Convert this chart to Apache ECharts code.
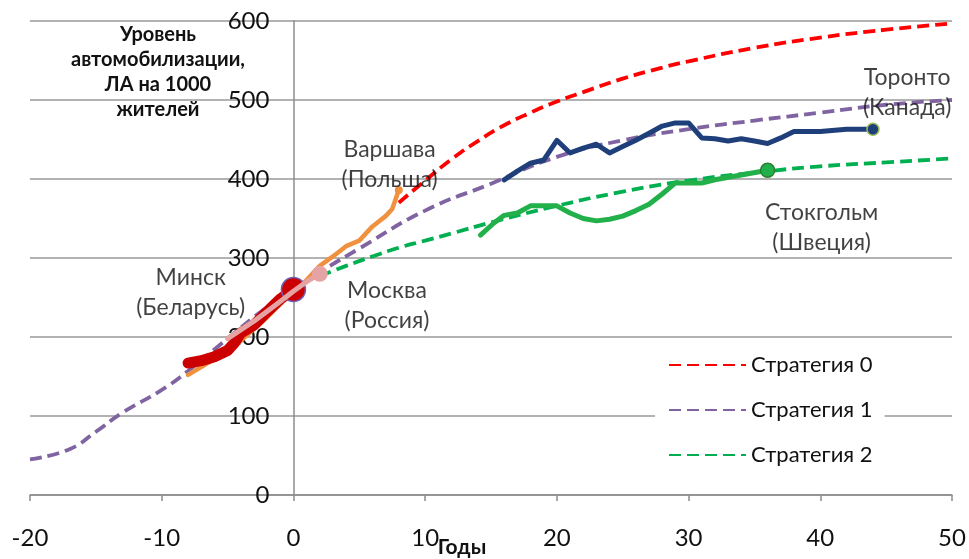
<!DOCTYPE html>
<html><head><meta charset="utf-8">
<script src="https://cdn.jsdelivr.net/npm/echarts@6/dist/echarts.min.js"></script>
<style>html,body{margin:0;padding:0;background:#fff}#c{width:969px;height:559px}</style>
</head><body><div id="c"></div>
<script>
// ---- data ----
const xMin = -20, xMax = 50, xStep = 10;
const yMin = 0, yMax = 600, yStep = 100;

const strategy0 = [[8,370],[10,398],[12,425],[14,448],[16,468],[18,484],[20,498],[22,510],[25,527],[28,541],[30,549],[35,566],[40,579],[45,589],[50,597]];
const strategy1 = [[-20,45],[-17,58],[-15,80],[-13,104],[-10,133],[-8,157],[-5,198],[-2,238],[0,260],[2,282],[5,312],[10,360],[15,394],[20,428],[25,449],[30,463],[35,474],[40,484],[45,494],[50,500]];
const strategy2 = [[2,277],[4,290],[6,302],[8,313],[10,322],[12,331],[15,345],[20,366],[25,384],[30,398],[35,408],[40,416],[45,421],[50,426]];

const warsaw = [[-8,152],[-6,172],[-4,195],[-2,225],[0,258],[1,272],[2,290],[3,302],[4,315],[5,322],[6,340],[7,353],[7.5,362],[8,386]];
const minsk = [[-8,167],[-7,170],[-6,175],[-5,183],[-4.5,192],[-4,205],[-3,215],[-2,232],[-1,248],[0,260]];
const moscow = [[-5,198],[-3,220],[-1,245],[0,258],[1,270],[2,280]];
const toronto = [[16,399],[17,410],[18,420],[19,424],[20,449],[21,433],[22,439],[23,444],[24,433],[25,441],[26,449],[27,458],[28,467],[29,471],[30,471],[31,452],[32,451],[33,448],[34,451],[35,448],[36,445],[37,452],[38,460],[40,460],[42,463],[44,463]];
const stockholm = [[14.2,329],[15.2,344],[16,354],[17,357],[18,366],[20,366],[21,357],[22,350],[23,347],[24,349],[25,353],[26,360],[27,368],[28,381],[29,395],[30,395],[31,395],[32,399],[34,405],[36,411]];

const strategyNames = ['Стратегия 0','Стратегия 1','Стратегия 2'];
const annotationTexts = ['Варшава\n(Польша)','Минск\n(Беларусь)','Москва\n(Россия)','Торонто\n(Канада)','Стокгольм\n(Швеция)'];
const annotationAnchors = [[7.3,418],[-7.8,256],[7.1,240],[46.6,510],[40.1,338]];
const yTitle = 'Уровень\nавтомобилизации,\nЛА на 1000\nжителей';
const xTitle = 'Годы';

// ---- chart ----
const FF = 'Lato, "Noto Sans", sans-serif';
const last = a => a[a.length - 1];
const dash = [12, 6];

function dashed(name, data, color) {
  return { name, type: 'line', data, smooth: true, symbol: 'none', showSymbol: false,
    lineStyle: { color, width: 3.8, type: dash }, itemStyle: { color: 'rgba(0,0,0,0)' }, z: 2 };
}
function solid(name, data, color, width, z) {
  return { name, type: 'line', data, smooth: false, symbol: 'none', showSymbol: false,
    lineStyle: { color, width, cap: 'round', join: 'round' }, itemStyle: { color }, z };
}
function dot(name, point, color, size, border, bw, z) {
  return { name, type: 'scatter', data: [point], symbol: 'circle', symbolSize: size,
    itemStyle: { color, borderColor: border, borderWidth: bw, opacity: 1 }, z };
}

const chart = echarts.init(document.getElementById('c'), null, { renderer: 'canvas' });
chart.setOption({
  animation: false,
  backgroundColor: '#fff',
  textStyle: { fontFamily: FF },
  title: { text: yTitle, left: 158, top: 22, textAlign: 'center', padding: 0,
    textStyle: { fontFamily: FF, fontSize: 20, fontWeight: 'bold', lineHeight: 25, color: '#111' } },
  grid: { left: 30, right: 17, top: 21, bottom: 64, containLabel: false, outerBoundsMode: 'none' },
  legend: {
    data: strategyNames, orient: 'vertical', left: 655, top: 346,
    padding: [8, 12, 8, 13], itemWidth: 77, itemHeight: 19, itemGap: 23,
    backgroundColor: '#fff',
    itemStyle: { opacity: 0 },
    textStyle: { fontFamily: FF, fontSize: 22, color: '#111' }
  },
  xAxis: {
    type: 'value', min: xMin, max: xMax, interval: xStep,
    name: xTitle, nameLocation: 'middle', nameGap: 42, nameMoveOverlap: false,
    nameTextStyle: { fontFamily: FF, fontSize: 21, fontWeight: 'bold', color: '#111', padding: [0, 58, 0, 0] },
    axisLine: { show: true, onZero: false, lineStyle: { color: '#8c8c8c', width: 1.5 } },
    axisTick: { show: true, inside: false, length: 6, lineStyle: { color: '#8c8c8c', width: 1.5 } },
    axisLabel: { fontFamily: FF, fontSize: 24, color: '#111', margin: 31 },
    splitLine: { show: false }
  },
  yAxis: {
    type: 'value', min: yMin, max: yMax, interval: yStep, position: 'left', offset: 0,
    axisLine: { show: true, onZero: false, lineStyle: { color: '#8c8c8c', width: 1.5 } },
    axisTick: { show: false },
    axisLabel: { fontFamily: FF, fontSize: 24, color: '#111', margin: 24 },
    splitLine: { show: true, lineStyle: { color: '#999', width: 1.5 } }
  },
  series: [
    dashed(strategyNames[0], strategy0, '#ff0000'),
    dashed(strategyNames[1], strategy1, '#8064a2'),
    dashed(strategyNames[2], strategy2, '#00b050'),
    solid('Варшава', warsaw, '#f0913f', 4.5, 3),
    solid('Минск', minsk, '#cc0000', 11, 4),
    dot('Минск-точка', last(minsk), '#cc0000', 24, '#6c5fb0', 1.5, 5),
    solid('Москва', moscow, '#e6a3a3', 5, 6),
    dot('Москва-точка', last(moscow), '#e6a3a3', 16, '#e6a3a3', 0, 6),
    dot('Варшава-точка', last(warsaw), '#f0913f', 8, '#f0913f', 0, 3),
    solid('Торонто', toronto, '#1f3f7a', 5, 4),
    dot('Торонто-точка', last(toronto), '#1f3f7a', 12, '#9bbb59', 1.5, 5),
    solid('Стокгольм', stockholm, '#22b04b', 5, 4),
    dot('Стокгольм-точка', last(stockholm), '#22b04b', 14, '#2e7d32', 1.5, 5),
    {
      name: 'labels', type: 'scatter', symbol: 'circle', symbolSize: 1, z: 10,
      itemStyle: { color: 'rgba(0,0,0,0)' },
      data: annotationTexts.map((t, i) => ({ value: annotationAnchors[i], text: t })),
      label: { show: true, position: 'inside', formatter: p => p.data.text,
        fontFamily: FF, fontSize: 23, lineHeight: 30, color: '#111', align: 'center', verticalAlign: 'middle' }
    }
  ]
});
// place the value axis (line + labels) at x = 0, as in the original
const pxZero = chart.convertToPixel({ xAxisIndex: 0 }, 0);
const pxLeft = chart.convertToPixel({ xAxisIndex: 0 }, xMin);
chart.setOption({ yAxis: { offset: pxLeft - pxZero } });
</script></body></html>
